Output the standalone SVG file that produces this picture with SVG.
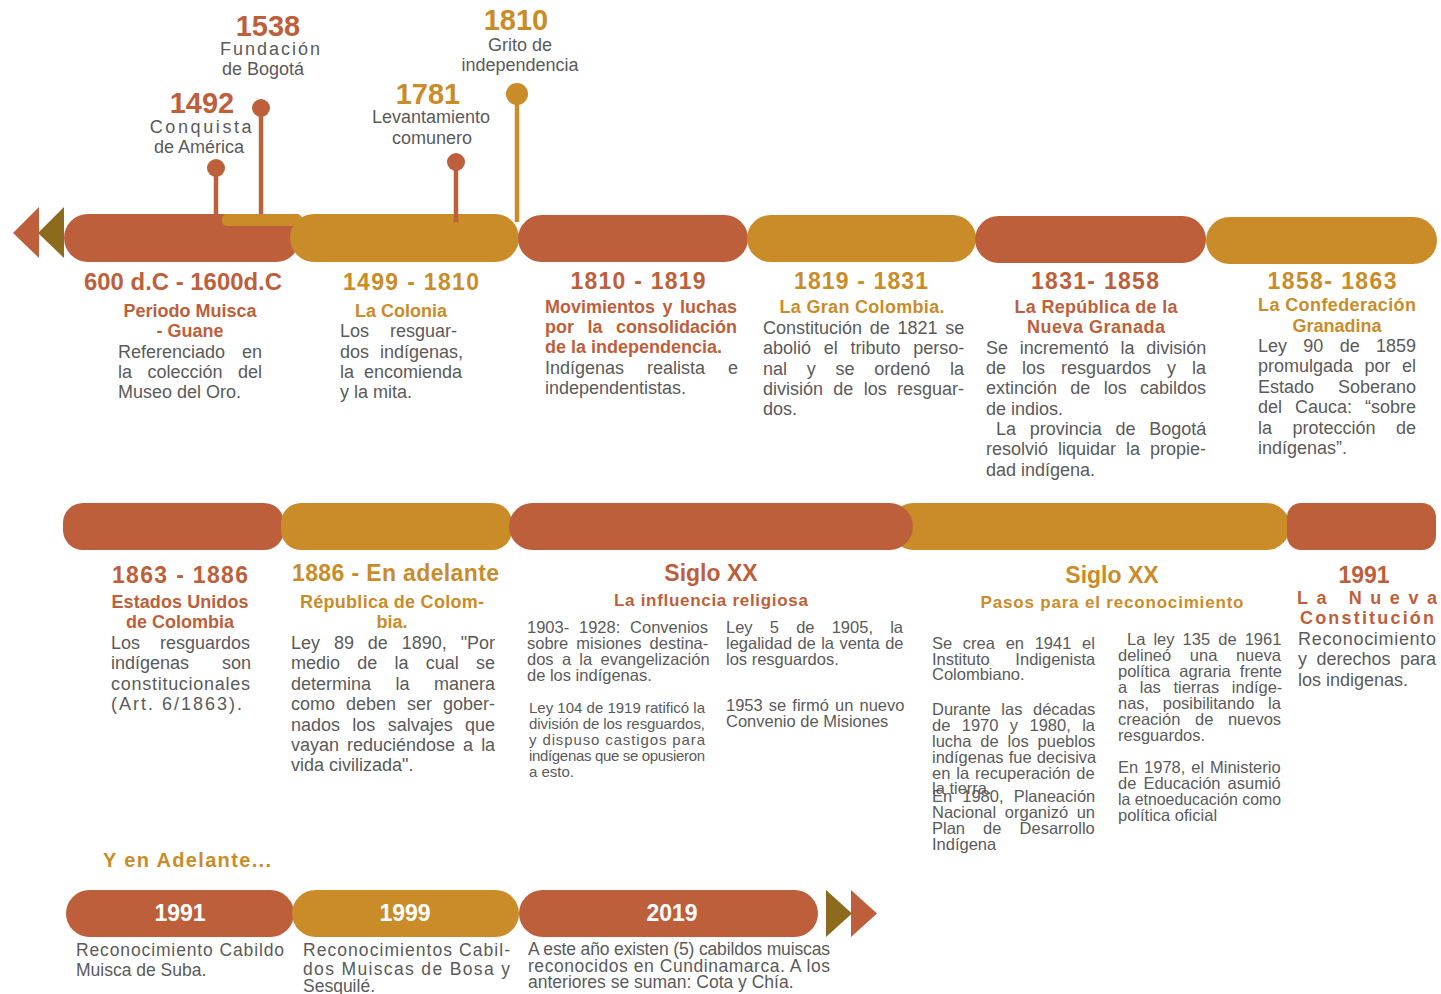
<svg xmlns="http://www.w3.org/2000/svg" width="1441" height="994" viewBox="0 0 1441 994">
<style>
.r{fill:#BE5F3C}.g{fill:#CA8C29}.o{fill:#8C6A1E}
.ts{font-family:"Liberation Sans",Arial,sans-serif;font-weight:bold}
.yr{font-size:23px}
.ev{font-size:29px}
.sub{font-size:18px}
.b{font-family:"Liberation Sans",Arial,sans-serif;font-size:18px;fill:#5A5A5A}
.s{font-family:"Liberation Sans",Arial,sans-serif;font-size:16.5px;fill:#5A5A5A}
.n{font-family:"Liberation Sans Narrow","Liberation Sans",Arial,sans-serif;font-size:15px;fill:#5A5A5A}
.nb{font-family:"Liberation Sans Narrow","Liberation Sans",Arial,sans-serif;font-size:17.5px;fill:#5A5A5A}
.tr{fill:#BE5F3C}.tg{fill:#CA8C29}
.w{font-family:"Liberation Sans Narrow","Liberation Sans",Arial,sans-serif;font-weight:bold;font-size:23px;fill:#fff}
.c{text-anchor:middle}
.st{stroke-width:4.5}
</style>

<g id="connectors">
  <line x1="216" y1="168" x2="216" y2="216" stroke="#BE5F3C" class="st"/>
  <line x1="261" y1="108" x2="261" y2="218" stroke="#BE5F3C" class="st"/>
</g>

<g id="top-bars">
  <polygon class="r" points="13,233 39,207 39,258"/>
  <polygon class="o" points="38,233 64,207 64,258"/>
  <rect id="bar-600" class="r" x="64" y="214" width="236" height="48" rx="24"/>
  <rect id="bar-1499" class="g" x="290" y="214" width="229" height="48" rx="24"/>
  <rect class="g" x="222" y="214" width="80" height="12" rx="5"/>
  <rect id="bar-1810" class="r" x="518" y="215" width="230" height="47" rx="23.5"/>
  <rect id="bar-1819" class="g" x="747" y="215" width="229" height="47" rx="23.5"/>
  <rect id="bar-1831" class="r" x="975" y="216" width="231" height="47" rx="23.5"/>
  <rect id="bar-1858" class="g" x="1206" y="217" width="231" height="47" rx="23.5"/>
</g>

<g id="pins">
  <g id="pin-1492"><circle cx="216" cy="168" r="9" class="r"/></g>
  <g id="pin-1538"><circle cx="261" cy="108" r="9" class="r"/></g>
  <g id="pin-1781"><line x1="456" y1="162" x2="456" y2="222" stroke="#BE5F3C" class="st"/><circle cx="456" cy="162" r="9" class="r"/></g>
  <g id="pin-1810"><line x1="517" y1="94" x2="517" y2="222" stroke="#CA8C29" class="st"/><circle cx="517" cy="94" r="11" class="g"/></g>
</g>

<g id="events">
  <g id="ev-1538">
    <text class="ts ev tr c" x="268" y="36">1538</text>
    <text class="b c" x="271" y="55" letter-spacing="2">Fundación</text>
    <text class="b c" x="263" y="75">de Bogotá</text>
  </g>
  <g id="ev-1492">
    <text class="ts ev tr c" x="202" y="113">1492</text>
    <text class="b c" x="202" y="133" letter-spacing="2.6">Conquista</text>
    <text class="b c" x="199" y="153">de América</text>
  </g>
  <g id="ev-1810">
    <text class="ts ev tg c" x="516" y="30">1810</text>
    <text class="b c" x="520" y="51">Grito de</text>
    <text class="b c" x="520" y="71">independencia</text>
  </g>
  <g id="ev-1781">
    <text class="ts ev tg c" x="428" y="104">1781</text>
    <text class="b c" x="431" y="123">Levantamiento</text>
    <text class="b c" x="432" y="144">comunero</text>
  </g>
</g>

<g id="col-600">
  <text class="ts yr tr" x="84" y="290" textLength="198" lengthAdjust="spacingAndGlyphs">600 d.C - 1600d.C</text>
  <text class="ts sub tr c" x="190" y="317">Periodo Muisca</text>
  <text class="ts sub tr c" x="190" y="337">- Guane</text>
  <text class="b" x="118" y="358" word-spacing="11.9">Referenciado en</text>
  <text class="b" x="118" y="378" word-spacing="10.5">la colección del</text>
  <text class="b" x="118" y="398">Museo del Oro.</text>
</g>

<g id="col-1499">
  <text class="ts yr tg c" x="411" y="290" textLength="136">1499 - 1810</text>
  <text class="ts sub tg c" x="401" y="317">La Colonia</text>
  <text class="b" x="340" y="337" word-spacing="16">Los resguar-</text>
  <text class="b" x="340" y="358" word-spacing="6">dos indígenas,</text>
  <text class="b" x="340" y="378" word-spacing="5">la encomienda</text>
  <text class="b" x="340" y="398">y la mita.</text>
</g>

<g id="col-1810">
  <text class="ts yr tr c" x="638" y="289" textLength="135">1810 - 1819</text>
  <text class="ts sub tr" x="545" y="313" word-spacing="2.5">Movimientos y luchas</text>
  <text class="ts sub tr" x="545" y="333" word-spacing="8.5">por la consolidación</text>
  <text class="ts sub tr" x="545" y="353">de la independencia.</text>
  <text class="b" x="545" y="374" word-spacing="18">Indígenas realista e</text>
  <text class="b" x="545" y="394">independentistas.</text>
</g>

<g id="col-1819">
  <text class="ts yr tg c" x="861" y="289" textLength="134">1819 - 1831</text>
  <text class="ts sub tg c" x="862" y="313" textLength="165">La Gran Colombia.</text>
  <text class="b" x="763" y="334" word-spacing="2.7">Constitución de 1821 se</text>
  <text class="b" x="763" y="354" word-spacing="7.7">abolió el tributo perso-</text>
  <text class="b" x="763" y="375" word-spacing="14.7">nal y se ordenó la</text>
  <text class="b" x="763" y="395" word-spacing="5.3">división de los resguar-</text>
  <text class="b" x="763" y="415">dos.</text>
</g>

<g id="col-1831">
  <text class="ts yr tr c" x="1095" y="289" textLength="128">1831- 1858</text>
  <text class="ts sub tr c" x="1096" y="313" textLength="163">La República de la</text>
  <text class="ts sub tr c" x="1096" y="333" textLength="138">Nueva Granada</text>
  <text class="b" x="986" y="354" word-spacing="6.7">Se incrementó la división</text>
  <text class="b" x="986" y="374" word-spacing="11">de los resguardos y la</text>
  <text class="b" x="986" y="394" word-spacing="8.3">extinción de los cabildos</text>
  <text class="b" x="986" y="415">de indios.</text>
  <text class="b" x="996" y="435" word-spacing="8.7">La provincia de Bogotá</text>
  <text class="b" x="986" y="455" word-spacing="5">resolvió liquidar la propie-</text>
  <text class="b" x="986" y="476">dad indígena.</text>
</g>

<g id="col-1858">
  <text class="ts yr tg c" x="1332" y="289" textLength="129">1858- 1863</text>
  <text class="ts sub tg c" x="1337" y="311" textLength="158">La Confederación</text>
  <text class="ts sub tg c" x="1337" y="332">Granadina</text>
  <text class="b" x="1258" y="352" word-spacing="11.3">Ley 90 de 1859</text>
  <text class="b" x="1258" y="372" word-spacing="6.5">promulgada por el</text>
  <text class="b" x="1258" y="393" word-spacing="19">Estado Soberano</text>
  <text class="b" x="1258" y="413" word-spacing="8">del Cauca: “sobre</text>
  <text class="b" x="1258" y="434" word-spacing="15.5">la protección de</text>
  <text class="b" x="1258" y="454">indígenas”.</text>
</g>

<g id="middle-bars">
  <rect id="bar-1863" class="r" x="63" y="503" width="221" height="47" rx="20"/>
  <rect id="bar-1886" class="g" x="281" y="503" width="231" height="47" rx="20"/>
  <rect id="bar-xx2" class="g" x="890" y="503" width="400" height="47" rx="23.5"/>
  <rect id="bar-xx1" class="r" x="509" y="503" width="404" height="47" rx="23.5"/>
  <rect id="bar-1991" class="r" x="1287" y="503" width="149" height="47" rx="14"/>
</g>

<g id="col-1863">
  <text class="ts yr tr c" x="180" y="583" textLength="136">1863 - 1886</text>
  <text class="ts sub tr c" x="180" y="608" textLength="137">Estados Unidos</text>
  <text class="ts sub tr c" x="180" y="628">de Colombia</text>
  <text class="b" x="111" y="649" word-spacing="15">Los resguardos</text>
  <text class="b" x="111" y="669" word-spacing="28">indígenas son</text>
  <text class="b" x="111" y="690" textLength="139">constitucionales</text>
  <text class="b" x="111" y="710" letter-spacing="2">(Art. 6/1863).</text>
</g>

<g id="col-1886">
  <text class="ts yr tg" x="292" y="581" textLength="207">1886 - En adelante</text>
  <text class="ts sub tg" x="300" y="608" textLength="184">Républica de Colom-</text>
  <text class="ts sub tg c" x="392" y="628">bia.</text>
  <text class="b" x="291" y="649" word-spacing="8.9">Ley 89 de 1890, "Por</text>
  <text class="b" x="291" y="669" word-spacing="12.2">medio de la cual se</text>
  <text class="b" x="291" y="690" word-spacing="19.5">determina la manera</text>
  <text class="b" x="291" y="710" word-spacing="6">como deben ser gober-</text>
  <text class="b" x="291" y="731" word-spacing="7.3">nados los salvajes que</text>
  <text class="b" x="291" y="751" word-spacing="3">vayan reduciéndose a la</text>
  <text class="b" x="291" y="771">vida civilizada".</text>
</g>

<g id="col-xx1">
  <text class="ts yr tr c" x="711" y="581">Siglo XX</text>
  <text class="ts tr c" x="711" y="606" font-size="17" textLength="194">La influencia religiosa</text>
  <text class="s" x="527" y="633" word-spacing="5.2">1903- 1928: Convenios</text>
  <text class="s" x="527" y="649" word-spacing="3.5">sobre misiones destina-</text>
  <text class="s" x="527" y="665" word-spacing="3.7">dos a la evangelización</text>
  <text class="s" x="527" y="681">de los indígenas.</text>
  <text class="s" x="726" y="633" word-spacing="12.6">Ley 5 de 1905, la</text>
  <text class="s" x="726" y="649" word-spacing="0.8">legalidad de la venta de</text>
  <text class="s" x="726" y="665">los resguardos.</text>
  <text class="n" x="529" y="713" textLength="176">Ley 104 de 1919 ratificó la</text>
  <text class="n" x="529" y="729" textLength="176">división de los resguardos,</text>
  <text class="n" x="529" y="745" textLength="176">y dispuso castigos  para</text>
  <text class="n" x="529" y="761" textLength="176">indígenas que se opusieron</text>
  <text class="n" x="529" y="777">a esto.</text>
  <text class="s" x="726" y="711" word-spacing="1.5">1953 se firmó un nuevo</text>
  <text class="s" x="726" y="727">Convenio de Misiones</text>
</g>

<g id="col-xx2">
  <text class="ts yr tg c" x="1112" y="583">Siglo XX</text>
  <text class="ts tg c" x="1112" y="608" font-size="17" textLength="263">Pasos para el reconocimiento</text>
  <text class="s" x="932" y="649" word-spacing="6.1">Se crea en 1941 el</text>
  <text class="s" x="932" y="665" word-spacing="21">Instituto Indigenista</text>
  <text class="s" x="932" y="680">Colombiano.</text>
  <text class="s" x="932" y="715" word-spacing="6">Durante las décadas</text>
  <text class="s" x="932" y="731" word-spacing="6.8">de 1970 y 1980, la</text>
  <text class="s" x="932" y="747" word-spacing="4.3">lucha de los pueblos</text>
  <text class="s" x="932" y="763" word-spacing="0.5">indígenas fue decisiva</text>
  <text class="s" x="932" y="779" word-spacing="1.3">en la recuperación de</text>
  <text class="s" x="932" y="794">la tierra.</text>
  <text class="s" x="932" y="802" word-spacing="5.5">En 1980, Planeación</text>
  <text class="s" x="932" y="818" word-spacing="4">Nacional organizó un</text>
  <text class="s" x="932" y="834" word-spacing="13.5">Plan de Desarrollo</text>
  <text class="s" x="932" y="850">Indígena</text>
  <text class="s" x="1127" y="645" word-spacing="3.5">La ley 135 de 1961</text>
  <text class="s" x="1118" y="661" word-spacing="14">delineó una nueva</text>
  <text class="s" x="1118" y="677" word-spacing="4.5">política agraria frente</text>
  <text class="s" x="1118" y="693" word-spacing="8">a las tierras indíge-</text>
  <text class="s" x="1118" y="709" word-spacing="9">nas, posibilitando la</text>
  <text class="s" x="1118" y="725" word-spacing="10">creación de nuevos</text>
  <text class="s" x="1118" y="741">resguardos.</text>
  <text class="s" x="1118" y="773" word-spacing="1.3">En 1978, el Ministerio</text>
  <text class="s" x="1118" y="789" word-spacing="2.5">de Educación asumió</text>
  <text class="s" x="1118" y="805" textLength="163" lengthAdjust="spacingAndGlyphs">la etnoeducación como</text>
  <text class="s" x="1118" y="821">política oficial</text>
</g>

<g id="col-1991">
  <text class="ts yr tr c" x="1364" y="583">1991</text>
  <text class="ts sub tr" x="1297" y="604" textLength="140">La Nueva</text>
  <text class="ts sub tr" x="1300" y="624" textLength="134">Constitución</text>
  <text class="b" x="1298" y="645" textLength="138">Reconocimiento</text>
  <text class="b" x="1298" y="665" word-spacing="4.5">y derechos para</text>
  <text class="b" x="1298" y="686">los indigenas.</text>
</g>

<g id="bottom">
  <text class="tg" x="103" y="867" font-family="'Liberation Sans Narrow','Liberation Sans',Arial,sans-serif" font-weight="bold" font-size="20" textLength="168">Y en Adelante...</text>
  <g id="b-1991">
    <rect class="r" x="66" y="890" width="228" height="47" rx="23.5"/>
    <text class="w c" x="180" y="921">1991</text>
  </g>
  <g id="b-1999">
    <rect class="g" x="292" y="890" width="227" height="47" rx="23.5"/>
    <text class="w c" x="405" y="921">1999</text>
  </g>
  <g id="b-2019">
    <rect class="r" x="519" y="890" width="299" height="47" rx="23.5"/>
    <text class="w c" x="672" y="921">2019</text>
  </g>
  <polygon class="o" points="826,890 852,913.5 826,937"/>
  <polygon class="r" points="851,890 877,913.5 851,937"/>
  <text class="nb" x="76" y="956" textLength="208">Reconocimiento Cabildo</text>
  <text class="nb" x="76" y="976">Muisca de Suba.</text>
  <text class="nb" x="303" y="956" textLength="207">Reconocimientos Cabil-</text>
  <text class="nb" x="303" y="975" textLength="207">dos Muiscas de Bosa y</text>
  <text class="nb" x="303" y="992">Sesquilé.</text>
  <text class="nb" x="528" y="955" font-size="15.5" textLength="302">A este año existen (5) cabildos muiscas</text>
  <text class="nb" x="528" y="972" font-size="15.5" textLength="302">reconocidos en Cundinamarca. A los</text>
  <text class="nb" x="528" y="988" font-size="15.5">anteriores se suman: Cota y Chía.</text>
</g>
</svg>
